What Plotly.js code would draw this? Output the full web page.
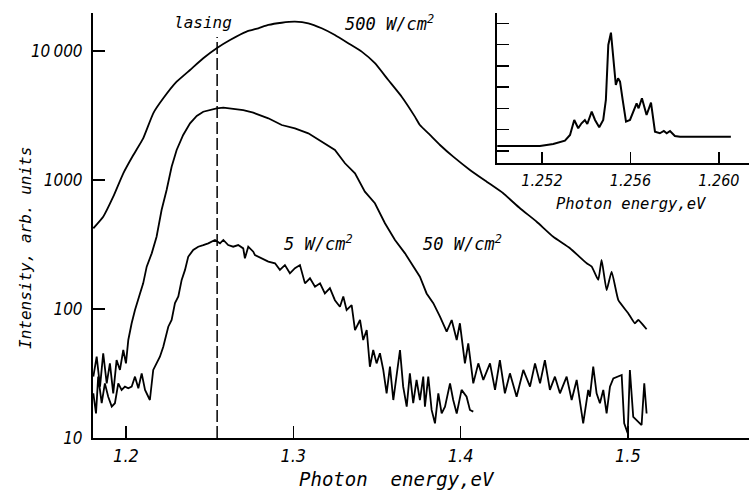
<!DOCTYPE html>
<html>
<head>
<meta charset="utf-8">
<script src="https://cdn.plot.ly/plotly-3.0.1.min.js"></script>
<style>html,body{margin:0;padding:0;background:#fff;}#chart{width:749px;height:493px;}</style>
</head>
<body>
<div id="chart"></div>
<script>
// ---- Data ----
// 500 W/cm^2
const energy500 = [1.1805,1.1864,1.1924,1.1984,1.2044,1.2103,1.2163,1.2223,1.2303,1.2383,1.2462,1.2542,1.2622,1.2721,1.2791,1.2851,1.2931,1.3010,1.3090,1.3170,1.3249,1.3329,1.3409,1.3488,1.3568,1.3648,1.3727,1.3757,1.3817,1.3877,1.3956,1.4056,1.4156,1.4255,1.4355,1.4455,1.4554,1.4654,1.4754,1.4784,1.4823,1.4843,1.4873,1.4903,1.4943,1.5002,1.5042,1.5062,1.5112];
const intensity500 = [422,519,742,1127,1563,2104,3289,4296,5780,7129,8775,10500,12160,14130,15000,15910,16560,16870,16400,15000,13300,11480,9890,8040,5960,4426,3100,2667,2234,1868,1517,1197,970,789,604,475,363,296,226,213,168,240,140,195,117,92.7,77.4,82.2,69.7];

// 50 W/cm^2
const energy50 = [1.1805,1.1825,1.1845,1.1864,1.1885,1.1904,1.1924,1.1944,1.1964,1.1984,1.2000,1.2014,1.2034,1.2054,1.2084,1.2103,1.2124,1.2154,1.2183,1.2213,1.2243,1.2273,1.2303,1.2342,1.2383,1.2423,1.2462,1.2502,1.2542,1.2582,1.2641,1.2701,1.2761,1.2771,1.2851,1.2931,1.3010,1.3090,1.3170,1.3249,1.3309,1.3369,1.3428,1.3488,1.3548,1.3608,1.3668,1.3717,1.3757,1.3797,1.3837,1.3877,1.3917,1.3947,1.3977,1.3996,1.4026,1.4046,1.4076,1.4106,1.4136,1.4176,1.4206,1.4235,1.4265,1.4295,1.4335,1.4375,1.4415,1.4445,1.4475,1.4504,1.4534,1.4564,1.4594,1.4634,1.4664,1.4694,1.4733,1.4763,1.4773,1.4793,1.4813,1.4833,1.4853,1.4873,1.4893,1.4913,1.4943,1.4963,1.4978,1.4999,1.5012,1.5032,1.5082,1.5098,1.5112];
const intensity50 = [29.9,42.7,25.0,45.4,26.5,37.9,22.2,40.2,33.7,48.1,37.9,57.5,77.5,98.2,132,158,213,270,363,585,836,1268,1709,2233,2751,3134,3384,3487,3596,3635,3551,3487,3324,3289,3008,2669,2517,2301,1981,1709,1348,1127,812,660,462,343,270,213,178,132,111,87.2,66.7,82.2,57.5,77.5,37.9,54.2,26.5,37.9,28.2,37.9,23.6,40.2,22.2,31.7,20.9,33.7,25.0,37.9,26.5,40.2,23.6,29.9,22.2,29.9,19.7,28.2,13.0,23.6,20.9,35.7,22.2,18.6,23.6,15.5,25.0,29.0,29.9,30.8,13.0,10.9,33.7,14.6,12.6,26.5,15.5];

// 5 W/cm^2
const energy5 = [1.1805,1.1821,1.1834,1.1855,1.1874,1.1894,1.1915,1.1934,1.1954,1.1974,1.1994,1.2014,1.2034,1.2054,1.2074,1.2094,1.2114,1.2143,1.2163,1.2183,1.2203,1.2223,1.2253,1.2273,1.2293,1.2313,1.2333,1.2353,1.2372,1.2402,1.2432,1.2462,1.2492,1.2532,1.2562,1.2582,1.2611,1.2641,1.2671,1.2701,1.2711,1.2731,1.2761,1.2771,1.2811,1.2851,1.2891,1.2920,1.2950,1.2980,1.3010,1.3040,1.3070,1.3100,1.3130,1.3160,1.3189,1.3219,1.3249,1.3279,1.3299,1.3319,1.3349,1.3369,1.3399,1.3418,1.3439,1.3458,1.3478,1.3498,1.3518,1.3538,1.3558,1.3578,1.3598,1.3618,1.3638,1.3657,1.3678,1.3697,1.3717,1.3737,1.3757,1.3777,1.3787,1.3807,1.3827,1.3847,1.3867,1.3887,1.3907,1.3937,1.3956,1.3977,1.4006,1.4036,1.4056,1.4076];
const intensity5 = [22.2,15.5,29.9,18.6,26.5,20.9,17.5,18.6,26.5,23.6,25.0,24.3,25.0,29.9,24.3,31.7,23.6,19.7,33.7,37.9,42.7,51.0,72.9,82.2,111,125,168,201,254,287,304,313,323,343,323,343,313,304,313,295,247,304,278,262,247,233,226,201,219,189,207,219,158,173,149,158,132,145,117,104,125,98.2,107,68.7,82.2,57.5,68.7,35.7,48.1,37.9,45.4,33.7,22.2,35.7,19.7,31.7,48.1,25.0,17.5,31.7,18.6,28.2,19.7,29.9,17.5,29.9,16.5,13.0,22.2,15.5,17.5,26.5,19.7,15.5,23.6,20.9,16.5,16.0];

// lasing marker
const lasingEnergy = 1.2545;
const lasingSpan = [10, 12850];

// inset: lasing spectrum (linear arbitrary units)
const insetEnergy = [1.24998,1.25191,1.25251,1.25304,1.25327,1.25346,1.25364,1.25379,1.25394,1.25405,1.25425,1.25440,1.25459,1.25477,1.25489,1.25500,1.25512,1.25522,1.25534,1.25544,1.25553,1.25565,1.25580,1.25598,1.25613,1.25628,1.25637,1.25652,1.25673,1.25693,1.25711,1.25733,1.25751,1.25764,1.25779,1.25801,1.25824,1.26054];
const insetIntensity = [1.235,1.235,1.329,1.484,1.752,2.457,2.067,2.302,2.457,2.269,2.847,2.457,2.114,2.457,3.397,5.981,6.559,5.276,4.102,4.416,4.257,3.397,2.377,2.457,2.847,3.242,3.007,3.477,2.692,3.270,1.907,1.832,1.940,1.832,1.940,1.705,1.672,1.672];

const mainTicks = [1.2, 1.3, 1.4, 1.5];
const mainTickText = ["1.2", "1.3", "1.4", "1.5"];
const yTicks = [10, 100, 1000, 10000];
const yTickText = ["10", "100", "1000", "10\u2009000"];
const insetTicks = [1.252, 1.256, 1.260];
const insetTickText = ["1.252", "1.256", "1.260"];
const insetYTicks = [1, 2, 3, 4, 5, 6, 7];

// ---- Styles ----
const narrow = "'Liberation Sans Narrow', 'DejaVu Sans Condensed', 'Liberation Sans', sans-serif";
const mono = "'DejaVu Sans Mono', 'Liberation Mono', monospace";
const lineStyle = {color: '#000', width: 1.8};

const traces = [
  {x: energy500, y: intensity500, mode: 'lines', line: Object.assign({}, lineStyle, {shape: 'spline', smoothing: 0.4}), xaxis: 'x', yaxis: 'y', hoverinfo: 'skip'},
  {x: energy50, y: intensity50, mode: 'lines', line: lineStyle, xaxis: 'x', yaxis: 'y', hoverinfo: 'skip'},
  {x: energy5, y: intensity5, mode: 'lines', line: lineStyle, xaxis: 'x', yaxis: 'y', hoverinfo: 'skip'},
  {x: [lasingEnergy, lasingEnergy], y: lasingSpan, mode: 'lines', line: {color: '#000', width: 1.5, dash: '12px,4px'}, xaxis: 'x', yaxis: 'y', hoverinfo: 'skip'},
  {x: insetEnergy, y: insetIntensity, mode: 'lines', line: {color: '#000', width: 2}, xaxis: 'x2', yaxis: 'y2', hoverinfo: 'skip'}
];

const axisCommon = {showline: true, linecolor: '#000', linewidth: 2, ticks: 'inside', tickcolor: '#000', tickwidth: 1.5, showgrid: false, zeroline: false, fixedrange: true};

const layout = {
  width: 749, height: 493,
  margin: {l: 93, r: 0, t: 13, b: 55, pad: 0},
  paper_bgcolor: '#fff', plot_bgcolor: 'rgba(0,0,0,0)',
  showlegend: false,
  xaxis: Object.assign({}, axisCommon, {
    domain: [0, 1], range: [1.1803, 1.5724], anchor: 'y',
    tickmode: 'array', tickvals: mainTicks, ticktext: mainTickText, ticklen: 12,
    tickfont: {family: narrow, size: 18, style: 'italic', color: '#000'}, ticklabelstandoff: 0
  }),
  yaxis: Object.assign({}, axisCommon, {
    type: 'log', domain: [0, 1], range: [1, 4.2946], anchor: 'x',
    tickmode: 'array', tickvals: yTicks, ticktext: yTickText, ticklen: 12,
    tickfont: {family: narrow, size: 17, style: 'italic', color: '#000'}, ticklabelstandoff: 5
  }),
  xaxis2: Object.assign({}, axisCommon, {
    domain: [0.6159, 1], range: [1.24997, 1.26136], anchor: 'y2',
    tickmode: 'array', tickvals: insetTicks, ticktext: insetTickText, ticklen: 11,
    tickfont: {family: narrow, size: 16, style: 'italic', color: '#000'}, ticklabelstandoff: 2
  }),
  yaxis2: Object.assign({}, axisCommon, {
    domain: [0.6471, 1], range: [0.436, 7.485], anchor: 'x2',
    tickmode: 'array', tickvals: insetYTicks, ticklen: 12, showticklabels: false
  }),
  annotations: [
    {text: 'lasing', xref: 'paper', yref: 'paper', x: 0.1677, y: 0.9765, showarrow: false, xanchor: 'center', yanchor: 'middle', font: {family: mono, size: 16, style: 'italic', color: '#000'}},
    {text: '500 W/cm<sup>2</sup>', xref: 'paper', yref: 'paper', x: 0.4527, y: 0.9765, showarrow: false, xanchor: 'center', yanchor: 'middle', font: {family: mono, size: 17, style: 'italic', color: '#000'}},
    {text: '5 W/cm<sup>2</sup>', xref: 'paper', yref: 'paper', x: 0.343, y: 0.4588, showarrow: false, xanchor: 'center', yanchor: 'middle', font: {family: mono, size: 17, style: 'italic', color: '#000'}},
    {text: '50 W/cm<sup>2</sup>', xref: 'paper', yref: 'paper', x: 0.5625, y: 0.4588, showarrow: false, xanchor: 'center', yanchor: 'middle', font: {family: mono, size: 17, style: 'italic', color: '#000'}},
    {text: 'Photon  energy,eV', xref: 'paper', yref: 'paper', x: 0.4634, y: -0.0965, showarrow: false, xanchor: 'center', yanchor: 'middle', font: {family: mono, size: 19, style: 'italic', color: '#000'}},
    {text: 'Intensity, arb. units', xref: 'paper', yref: 'paper', x: -0.1037, y: 0.447, showarrow: false, textangle: -90, xanchor: 'center', yanchor: 'middle', font: {family: mono, size: 16, style: 'italic', color: '#000'}},
    {text: 'Photon energy,eV', xref: 'paper', yref: 'paper', x: 0.8216, y: 0.5506, showarrow: false, xanchor: 'center', yanchor: 'middle', font: {family: mono, size: 15.5, style: 'italic', color: '#000'}}
  ]
};

Plotly.newPlot('chart', traces, layout, {staticPlot: true, displayModeBar: false});
</script>
</body>
</html>
